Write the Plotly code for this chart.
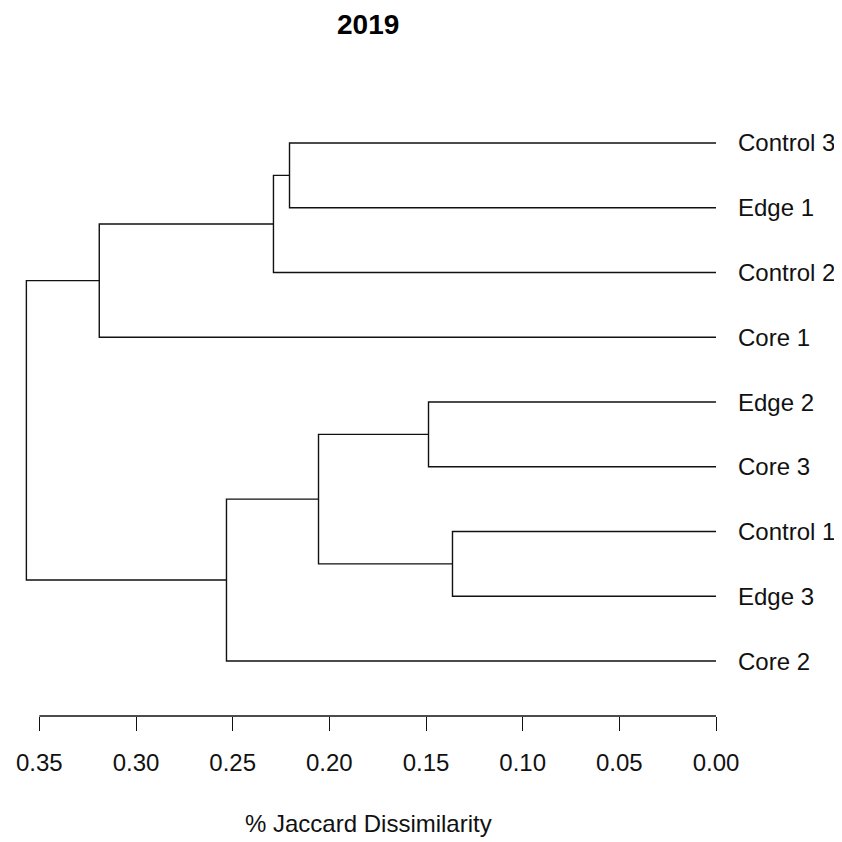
import plotly.graph_objects as go

# Leaves, top to bottom
leaf_labels = ["Control 3", "Edge 1", "Control 2", "Core 1", "Edge 2",
               "Core 3", "Control 1", "Edge 3", "Core 2"]

# Merge table (R hclust style: negative = leaf index (1-based, in leaf_labels), positive = earlier merge)
merge_a = [-1, -7, -5, 1, 3, 5, 4, 7]
merge_b = [-2, -8, -6, -3, 2, -9, -4, 6]
merge_height = [0.2206, 0.1363, 0.1487, 0.2289, 0.2056, 0.2532, 0.3190, 0.3567]

tick_vals = [0.35, 0.30, 0.25, 0.20, 0.15, 0.10, 0.05, 0.00]
tick_text = ["0.35", "0.30", "0.25", "0.20", "0.15", "0.10", "0.05", "0.00"]

title_text = "2019"
x_title = "% Jaccard Dissimilarity"

n = len(leaf_labels)
leaf_y = {i + 1: n - i for i in range(n)}  # top leaf at y = n

node_pos = {}  # merge idx -> (height, y)


def pos(ref):
    if ref < 0:
        return 0.0, leaf_y[-ref]
    return node_pos[ref]


xs, ys = [], []
for k, (a, b, h) in enumerate(zip(merge_a, merge_b, merge_height), start=1):
    ha, ya = pos(a)
    hb, yb = pos(b)
    xs += [ha, h, h, hb, None]
    ys += [ya, ya, yb, yb, None]
    node_pos[k] = (h, (ya + yb) / 2)

FONT = "Liberation Sans, Arial, sans-serif"

# page body margin compensation (8px default)
OFF = 8
L, R, T, B = 20 - OFF, 126 + OFF, 100 - OFF, 126 + OFF
PW, PH = 842 - L - R, 842 - T - B


def px_x(screen_x):
    return (screen_x - OFF - L) / PW


def px_y(screen_y):
    return (842 - B - (screen_y - OFF)) / PH


fig = go.Figure()
fig.add_trace(go.Scatter(x=xs, y=ys, mode="lines",
                         line=dict(color="#111111", width=1.4),
                         hoverinfo="skip", showlegend=False))

for i, lab in enumerate(leaf_labels):
    fig.add_annotation(x=0, y=leaf_y[i + 1], xref="x", yref="y", text=lab,
                       showarrow=False, xanchor="left", yanchor="middle",
                       xshift=20, font=dict(family=FONT, size=24, color="#111111"))

# axis line from 0.35 to 0
fig.add_shape(type="line", xref="x", yref="paper", x0=max(tick_vals), x1=min(tick_vals),
              y0=0, y1=0, line=dict(color="#111111", width=1.4))

fig.add_annotation(text="<b>%s</b>" % title_text, xref="paper", yref="paper",
                   x=px_x(368), y=px_y(24), showarrow=False,
                   xanchor="center", yanchor="middle",
                   font=dict(family=FONT, size=28, color="#000000"))
fig.add_annotation(text=x_title, xref="paper", yref="paper",
                   x=px_x(368), y=px_y(823), showarrow=False,
                   xanchor="center", yanchor="middle",
                   font=dict(family=FONT, size=24, color="#111111"))

fig.update_layout(
    width=842, height=842,
    margin=dict(l=L, r=R, t=T, b=B, autoexpand=False),
    paper_bgcolor="white", plot_bgcolor="white",
    xaxis=dict(range=[0.36, 0.0], tickvals=tick_vals, ticktext=tick_text,
               ticks="outside", ticklen=14, tickwidth=1.4, tickcolor="#111111",
               showline=False, showgrid=False, zeroline=False,
               ticklabelstandoff=11,
               tickfont=dict(family=FONT, size=24, color="#111111")),
    yaxis=dict(range=[0.1506, 9.664], visible=False, showgrid=False, zeroline=False),
)

fig.write_html("out.html")
